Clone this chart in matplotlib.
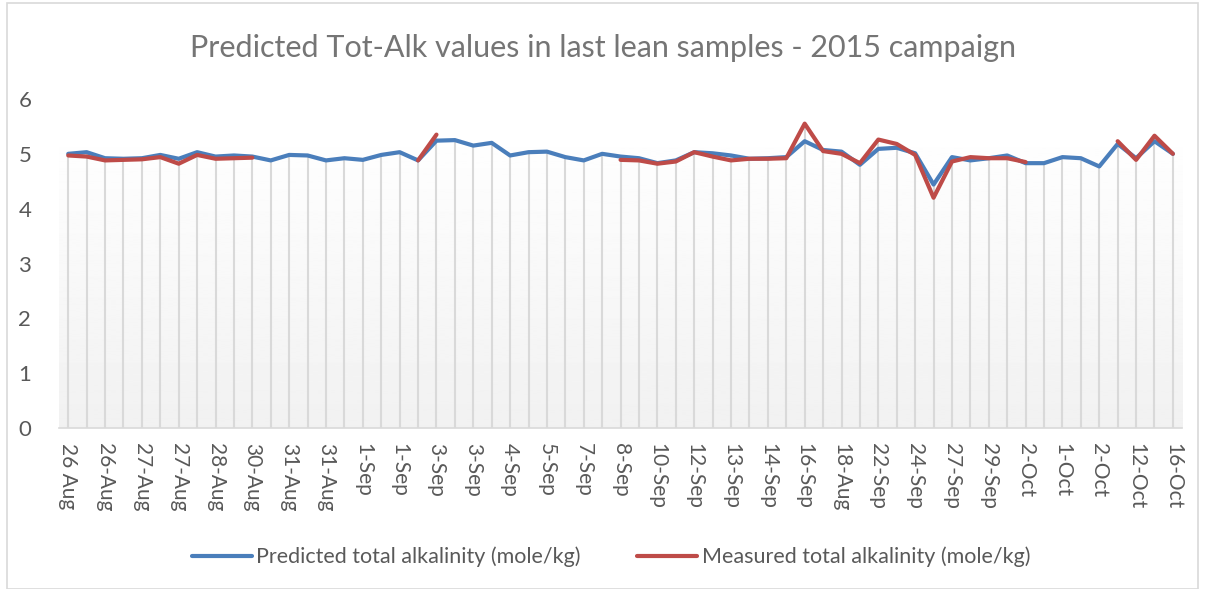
import matplotlib
matplotlib.use("Agg")
import matplotlib.pyplot as plt
import numpy as np
from matplotlib.patches import Rectangle

plt.rcParams['font.family'] = ['Lato', 'DejaVu Sans']

# sample dates (every other sample carries a label)
date_labels = ["26 Aug", "26-Aug", "27-Aug", "27-Aug", "28-Aug", "30-Aug", "31-Aug",
               "31-Aug", "1-Sep", "1-Sep", "3-Sep", "3-Sep", "4-Sep", "5-Sep", "7-Sep",
               "8-Sep", "10-Sep", "12-Sep", "13-Sep", "14-Sep", "16-Sep", "18-Aug",
               "22-Sep", "24-Sep", "27-Sep", "29-Sep", "2-Oct", "1-Oct", "2-Oct",
               "12-Oct", "16-Oct"]

predicted = [5.00, 5.03, 4.92, 4.91, 4.92, 4.98, 4.91, 5.03, 4.95, 4.97,
             4.95, 4.88, 4.98, 4.97, 4.88, 4.92, 4.89, 4.98, 5.03, 4.88,
             5.24, 5.25, 5.15, 5.20, 4.97, 5.03, 5.04, 4.94, 4.88, 5.00,
             4.95, 4.92, 4.83, 4.88, 5.03, 5.01, 4.97, 4.91, 4.92, 4.94,
             5.23, 5.07, 5.04, 4.80, 5.09, 5.11, 5.01, 4.44, 4.94, 4.88,
             4.92, 4.97, 4.83, 4.83, 4.94, 4.92, 4.77, 5.18, 4.92, 5.23,
             5.00]

nan = np.nan
measured = [4.97, 4.95, 4.88, 4.89, 4.90, 4.94, 4.82, 4.98, 4.91, 4.92,
            4.93, nan, nan, nan, nan, nan, nan, nan, nan, 4.88,
            5.35, nan, nan, nan, nan, nan, nan, nan, nan, nan,
            4.89, 4.88, 4.82, 4.86, 5.03, 4.95, 4.88, 4.91, 4.91, 4.92,
            5.55, 5.05, 5.00, 4.83, 5.26, 5.18, 4.98, 4.20, 4.86, 4.94,
            4.92, 4.92, 4.85, nan, nan, nan, nan, 5.23, 4.89, 5.33,
            5.00]

x = np.arange(len(predicted))
pred = np.array(predicted)
meas = np.array(measured)

fig = plt.figure(figsize=(12.05, 5.89), dpi=100)
ax = fig.add_axes([0.049, 0.273, 0.932, 0.559])

# soft gradient behind the series
grad = np.linspace(0.945, 0.997, 256).reshape(-1, 1)
ax.imshow(grad, cmap="gray", vmin=0, vmax=1, aspect="auto", origin="lower",
          extent=[-0.5, len(x) - 0.5, 0, 5.2], zorder=0)

# drop lines from the higher series down to the axis
top = np.fmax(pred, meas)
ax.vlines(x, 0, top, color="#d9d9d9", lw=1.5, zorder=1)

ax.plot(x, pred, color="#4a7ebb", lw=3, solid_capstyle="round",
        label="Predicted total alkalinity (mole/kg)", zorder=3)
ax.plot(x, meas, color="#be4b48", lw=3, solid_capstyle="round",
        label="Measured total alkalinity (mole/kg)", zorder=4)

ax.set_xlim(-0.5, len(x) - 0.5)
ax.set_ylim(0, 6)
ax.set_yticks(range(7))
ax.set_xticks(x[::2])
ax.set_xticklabels(date_labels, rotation=270, ha="center", va="top")
ax.tick_params(axis="both", length=0, colors="#595959", labelsize=15)
ax.tick_params(axis="y", labelsize=16, pad=20)
ax.tick_params(axis="x", pad=11)
for side in ["top", "right", "left"]:
    ax.spines[side].set_visible(False)
ax.spines["bottom"].set_color("#d9d9d9")
ax.spines["bottom"].set_linewidth(1.2)
ax.set_facecolor("white")

fig.suptitle("Predicted Tot-Alk values in last lean samples - 2015 campaign",
             y=0.942, fontsize=22, color="#757575")

fig.legend(loc="center", bbox_to_anchor=(0.507, 0.054), ncol=2, frameon=False,
           fontsize=15.5, labelcolor="#595959", handlelength=2.8, handletextpad=0.2,
           columnspacing=2.6)

# chart border
fig.patches.append(Rectangle((7 / 1205, 0.0), 1191 / 1205, 0.995, transform=fig.transFigure,
                             fill=False, edgecolor="#d9d9d9", lw=1.2))

fig.savefig("out.png", dpi=100)
